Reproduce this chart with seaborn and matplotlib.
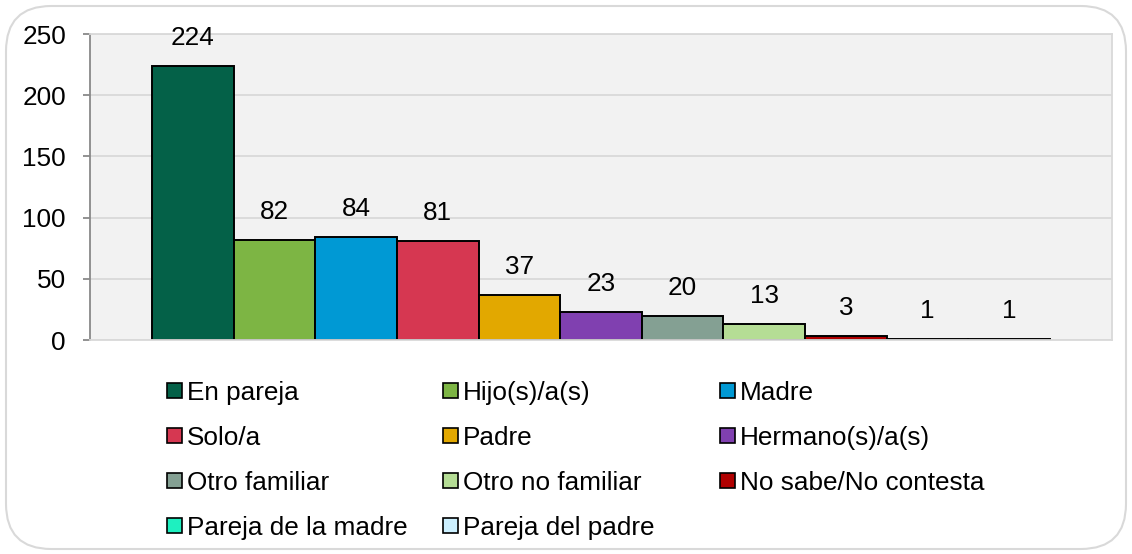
import matplotlib
matplotlib.use("Agg")
import matplotlib.pyplot as plt
import seaborn as sns
from matplotlib.patches import Rectangle, FancyBboxPatch

categories = ["En pareja", "Hijo(s)/a(s)", "Madre", "Solo/a", "Padre", "Hermano(s)/a(s)",
              "Otro familiar", "Otro no familiar", "No sabe/No contesta",
              "Pareja de la madre", "Pareja del padre"]
values = [224, 82, 84, 81, 37, 23, 20, 13, 3, 1, 1]
colors = ["#046148", "#7DB544", "#0099D4", "#D63751", "#E2A800", "#8040B0",
          "#84A093", "#B5DD95", "#B00000", "#1EF0C0", "#CCF0FF"]
yticks = [0, 50, 100, 150, 200, 250]

sns.set_style("white")
plt.rcParams['font.family'] = ['Liberation Sans', 'DejaVu Sans']
plt.rcParams['text.color'] = 'black'
plt.rcParams['ytick.labelcolor'] = 'black'

W, H = 1132, 554
FS = 18.8
fig = plt.figure(figsize=(W/100, H/100), dpi=100)
ax = fig.add_axes([90/W, 1-340/H, (1112-90)/W, (340-34)/H])

sns.barplot(x=categories, y=values, hue=categories, palette=colors, legend=False,
            width=1.0, edgecolor="black", linewidth=1.4, ax=ax, saturation=1)

ax.set_facecolor("#F2F2F2")
ax.set_ylim(0, 250)
ax.set_yticks(yticks)
ax.set_xlim(-0.5 - 0.76, 10.5 + 0.76)
ax.set_xticks([])
ax.set_xlabel("")
ax.set_ylabel("")
ax.yaxis.grid(True, color="#D9D9D9", linewidth=1.3)
ax.set_axisbelow(True)
for s in ["top", "right", "bottom"]:
    ax.spines[s].set_color("#D9D9D9")
    ax.spines[s].set_linewidth(1.3)
ax.spines["left"].set_color("#898989")
ax.spines["left"].set_linewidth(1.3)
ax.tick_params(axis="y", direction="out", length=5.3, width=1.3, color="#898989",
               labelsize=FS, pad=12, left=True, labelcolor="black")

for i, v in enumerate(values):
    ax.annotate(str(v), (i, v), xytext=(0, 11.5), textcoords="offset points",
                ha="center", va="bottom", fontsize=FS, color="black")

# legend: 3 columns, row-major order
col_x = [167, 443, 720]
row_y = [390, 435, 480, 525]
box = 15
for i, (c, l) in enumerate(zip(colors, categories)):
    r, k = divmod(i, 3)
    x0, yc = col_x[k], row_y[r]
    fig.patches.append(Rectangle((x0/W, 1-(yc+box/2)/H), box/W, box/H,
                                 transform=fig.transFigure, facecolor=c,
                                 edgecolor="black", linewidth=1.2))
    fig.text((x0+box+5)/W, 1-(yc+0.5)/H, l, fontsize=FS, ha="left", va="center_baseline",
             color="black")

border = FancyBboxPatch((6/W, 5/H), 1-12/W, 1-11/H,
                        boxstyle="round,pad=0,rounding_size=0.04",
                        transform=fig.transFigure, facecolor="none",
                        edgecolor="#D9D9D9", linewidth=1.5, mutation_aspect=W/H)
fig.patches.append(border)

fig.savefig("out.png", dpi=100)
